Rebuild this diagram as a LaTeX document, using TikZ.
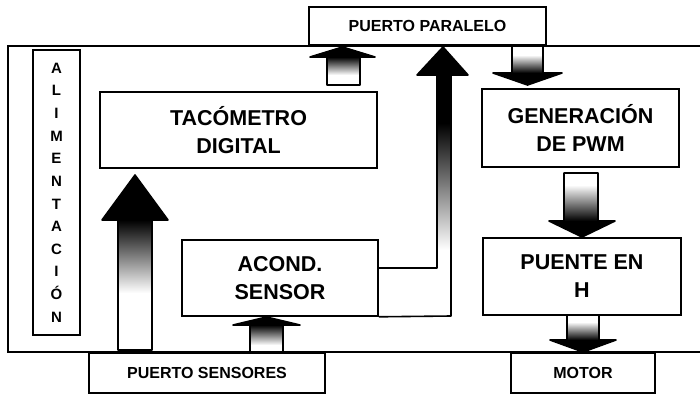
\documentclass[tikz,border=0pt]{standalone}
\usepackage{fontspec}
\setmainfont{Liberation Sans}

\tikzset{
  blk/.style={draw, fill=white, line width=1.6pt, align=center, inner sep=0pt,
    font=\bfseries\fontsize{21.5}{28}\selectfont},
  port/.style={draw, fill=white, line width=1.6pt, inner sep=0pt,
    font=\bfseries\fontsize{16}{18}\selectfont},
  edge/.style={line width=1.6pt, line join=round},
}

\begin{document}
\begin{tikzpicture}[x=1pt,y=1pt]
      \useasboundingbox (0,0) rectangle (700,394);
      \fill[white] (0,0) rectangle (700,394);
      % marco de la placa
      \draw[line width=2.8pt] (704,348) -- (8,348) -- (8,42) -- (704,42);
      % bloques
      \node[port, minimum width=237, minimum height=38] (par) at (427.5,368) {PUERTO PARALELO};
      \node[port, minimum width=236, minimum height=40] (sen) at (207,21) {PUERTO SENSORES};
      \node[port, minimum width=144, minimum height=40] (mot) at (583,21) {MOTOR};
      \node[draw, line width=1.6pt, minimum width=47, minimum height=285] (ali) at (56.5,201.5) {};
      \node[blk, minimum width=277, minimum height=76] (tac) at (238.5,264) {TACÓMETRO\\DIGITAL};
      \node[blk, minimum width=197, minimum height=78] (pwm) at (580.5,266) {GENERACIÓN\\DE PWM};
      \node[blk, minimum width=198, minimum height=77] (hpu) at (582,117.5) {PUENTE EN\\H};
      \node[blk, minimum width=196, minimum height=76] (acd) at (280,116) {ACOND.\\SENSOR};
      \foreach \ch [count=\i] in {A,L,I,M,E,N,T,A,C,I,Ó,N} {
        \node[font=\bfseries\fontsize{15}{15}\selectfont, anchor=base, inner sep=0pt]
          (al\i) at (56.5,{320.6-22.6*(\i-1)}) {\ch};
      }
      % flechas hacia arriba
      \foreach \xl/\xr/\hl/\hr/\yt/\yb/\yp/\yf in
          {118/152/102/168/44/174/219/101, 250/283/233/300/42/69/77/49,
           327/360/310/375/309/337/347/319} {
        \shade[top color=black, bottom color=white] (\xl,\yf) rectangle (\xr,\yb);
        \fill (\hl,\yb) -- ({(\hl+\hr)/2},\yp) -- (\hr,\yb) -- cycle;
        \draw[edge] (\xl,\yt) -- (\xl,\yb) -- (\hl,\yb) -- ({(\hl+\hr)/2},\yp)
          -- (\hr,\yb) -- (\xr,\yb) -- (\xr,\yt) -- cycle;
      }
      % flechas hacia abajo
      \foreach \xl/\xr/\hl/\hr/\yt/\yb/\yp/\yf in
          {512/543/493/562/349/321/309/339, 564/598/549/615/221/173/157/209,
           567/599/550/616/79/54/42/72} {
        \shade[top color=white, bottom color=black] (\xl,\yb) rectangle (\xr,\yf);
        \fill (\hl,\yb) -- ({(\hl+\hr)/2},\yp) -- (\hr,\yb) -- cycle;
        \draw[edge] (\xl,\yt) -- (\xl,\yb) -- (\hl,\yb) -- ({(\hl+\hr)/2},\yp)
          -- (\hr,\yb) -- (\xr,\yb) -- (\xr,\yt) -- cycle;
      }
      % acond. sensor -> puerto paralelo
      \shade[top color=black, bottom color=white] (437,144) rectangle (451,271);
      \fill (437,271) rectangle (451,319);
      \fill (417,319) -- (443,347) -- (468,319) -- cycle;
      \draw[edge] (acd.east |- 0,126) -- (437,126) -- (437,319) -- (417,319)
        -- (443,347) -- (468,319) -- (451,319) -- (451,78) -- (acd.south east);
    \end{tikzpicture}
\end{document}
